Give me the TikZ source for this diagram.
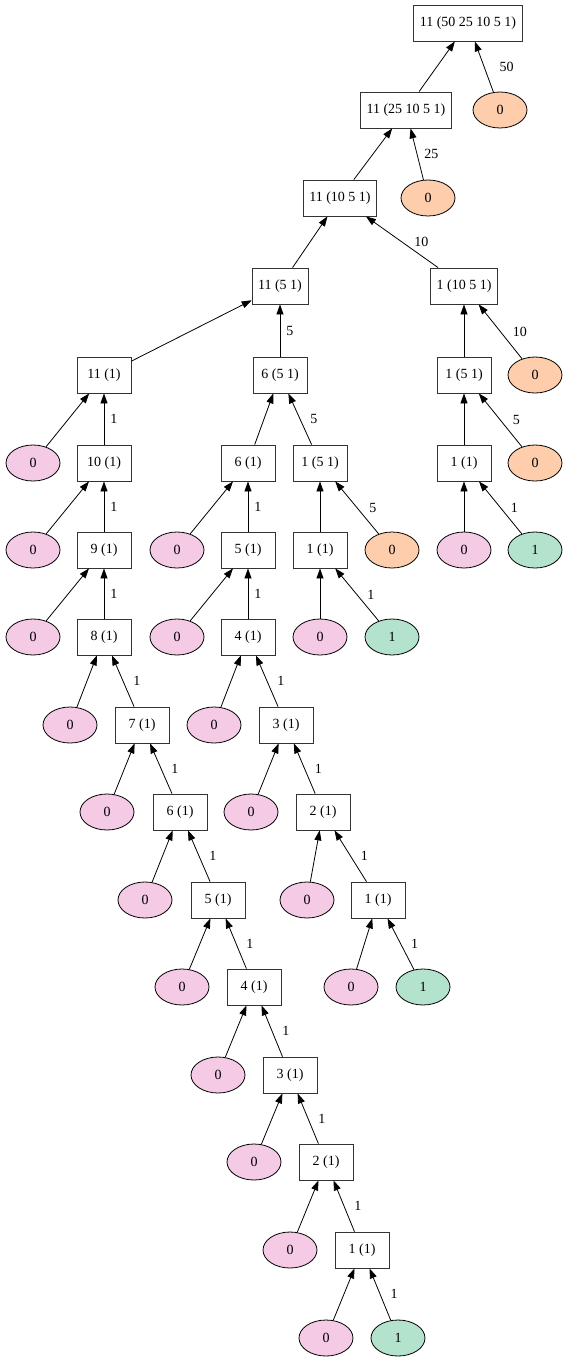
\documentclass[tikz,border=0pt]{standalone}
\usepackage{fontspec}
\setmainfont{Liberation Serif}
\usepackage{tikz}
\usetikzlibrary{arrows.meta,shapes.geometric,positioning}
\definecolor{leafpink}{HTML}{F4CAE4}
\definecolor{leaforange}{HTML}{FDCDAC}
\definecolor{leafgreen}{HTML}{B3E2CD}

\begin{document}
\begin{tikzpicture}[
  x=1bp, y=-1bp,
  state/.style={draw=black!80, line width=0.8bp, minimum width=54bp, minimum height=36bp,
                inner xsep=6bp, font=\fontsize{14bp}{16bp}\selectfont},
  leaf/.style={draw=black, line width=0.8bp, ellipse, fill=#1, minimum width=54bp,
               minimum height=36bp, inner sep=0pt, font=\fontsize{14bp}{16bp}\selectfont},
  arr/.style={-{Triangle[length=10bp,width=7bp]}, line width=0.8bp},
  lbl/.style={midway, right=#1, inner sep=1bp, font=\fontsize{14bp}{16bp}\selectfont},
  lbl/.default=9bp
]
  \useasboundingbox (0,0) rectangle (569,1367);

  % Top spine
  \node[state] (c50) at (468,23)  {11 (50 25 10 5 1)};
  \node[state] (c25) at (406,110) {11 (25 10 5 1)};
  \node[leaf=leaforange] (o50) at (500,110) {0};
  \node[state] (c10) at (340,198) {11 (10 5 1)};
  \node[leaf=leaforange] (o25) at (428,198) {0};
  \node[state] (c5)  at (280,286) {11 (5 1)};
  \node[state] (r10) at (464,286) {1 (10 5 1)};

  % Right branch
  \node[state] (r5)  at (464,375) {1 (5 1)};
  \node[leaf=leaforange] (ro10) at (535,375) {0};
  \node[state] (r1)  at (464,463) {1 (1)};
  \node[leaf=leaforange] (ro5) at (535,463) {0};
  \node[leaf=leafpink]  (rz) at (464,550) {0};
  \node[leaf=leafgreen] (rg) at (535,550) {1};

  % Left chain
  \node[state] (c1)  at (104,375) {11 (1)};
  \node[leaf=leafpink] (az11) at (33,463) {0};
  \node[state] (a10) at (104,463) {10 (1)};
  \node[leaf=leafpink] (az10) at (33,550) {0};
  \node[state] (a9)  at (104,550) {9 (1)};
  \node[leaf=leafpink] (az9) at (33,637) {0};
  \node[state] (a8)  at (104,637) {8 (1)};
  \node[leaf=leafpink] (az8) at (70,725) {0};
  \node[state] (a7)  at (142,725) {7 (1)};
  \node[leaf=leafpink] (az7) at (107,812) {0};
  \node[state] (a6)  at (180,812) {6 (1)};
  \node[leaf=leafpink] (az6) at (145,900) {0};
  \node[state] (a5)  at (218,900) {5 (1)};
  \node[leaf=leafpink] (az5) at (182,987) {0};
  \node[state] (a4)  at (254,987) {4 (1)};
  \node[leaf=leafpink] (az4) at (218,1075) {0};
  \node[state] (a3)  at (290,1075) {3 (1)};
  \node[leaf=leafpink] (az3) at (254,1162) {0};
  \node[state] (a2)  at (326,1162) {2 (1)};
  \node[leaf=leafpink] (az2) at (290,1250) {0};
  \node[state] (a1)  at (362,1250) {1 (1)};
  \node[leaf=leafpink]  (az1) at (326,1338) {0};
  \node[leaf=leafgreen] (ag)  at (398,1338) {1};

  % Middle branch
  \node[state] (m5)  at (280,375) {6 (5 1)};
  \node[state] (b6)  at (248,463) {6 (1)};
  \node[state] (m1)  at (320,463) {1 (5 1)};
  \node[leaf=leafpink] (bz6) at (177,550) {0};
  \node[state] (b5)  at (248,550) {5 (1)};
  \node[state] (m1b) at (320,550) {1 (1)};
  \node[leaf=leaforange] (mo5) at (392,550) {0};
  \node[leaf=leafpink] (bz5) at (177,637) {0};
  \node[state] (b4)  at (248,637) {4 (1)};
  \node[leaf=leafpink]  (mz) at (320,637) {0};
  \node[leaf=leafgreen] (mg) at (392,637) {1};
  \node[leaf=leafpink] (bz4) at (214,725) {0};
  \node[state] (b3)  at (286,725) {3 (1)};
  \node[leaf=leafpink] (bz3) at (251,812) {0};
  \node[state] (b2)  at (323,812) {2 (1)};
  \node[leaf=leafpink] (bz2) at (307,900) {0};
  \node[state] (b1)  at (378,900) {1 (1)};
  \node[leaf=leafpink]  (bz1) at (351,987) {0};
  \node[leaf=leafgreen] (bg)  at (423,987) {1};

  % Edges, child to parent
  \draw[arr] (c25) -- (c50);
  \draw[arr] (o50) -- node[lbl=14bp] {50} (c50);
  \draw[arr] (c10) -- (c25);
  \draw[arr] (o25) -- node[lbl=6bp] {25} (c25);
  \draw[arr] (c5) -- (c10);
  \draw[arr] (r10) -- node[lbl=11bp] {10} (c10);
  \draw[arr] (c1) -- (c5);
  \draw[arr] (m5) -- node[lbl=5bp] {5} (c5);

  \draw[arr] (r5) -- (r10);
  \draw[arr] (ro10) -- node[lbl=11bp] {10} (r10);
  \draw[arr] (r1) -- (r5);
  \draw[arr] (ro5) -- node[lbl=11bp] {5} (r5);
  \draw[arr] (rz) -- (r1);
  \draw[arr] (rg) -- node[lbl] {1} (r1);

  \draw[arr] (az11) -- (c1);
  \draw[arr] (a10) -- node[lbl=5bp] {1} (c1);
  \draw[arr] (az10) -- (a10);
  \draw[arr] (a9) -- node[lbl=5bp] {1} (a10);
  \draw[arr] (az9) -- (a9);
  \draw[arr] (a8) -- node[lbl=5bp] {1} (a9);
  \draw[arr] (az8) -- (a8);
  \draw[arr] (a7) -- node[lbl] {1} (a8);
  \draw[arr] (az7) -- (a7);
  \draw[arr] (a6) -- node[lbl] {1} (a7);
  \draw[arr] (az6) -- (a6);
  \draw[arr] (a5) -- node[lbl] {1} (a6);
  \draw[arr] (az5) -- (a5);
  \draw[arr] (a4) -- node[lbl] {1} (a5);
  \draw[arr] (az4) -- (a4);
  \draw[arr] (a3) -- node[lbl] {1} (a4);
  \draw[arr] (az3) -- (a3);
  \draw[arr] (a2) -- node[lbl] {1} (a3);
  \draw[arr] (az2) -- (a2);
  \draw[arr] (a1) -- node[lbl] {1} (a2);
  \draw[arr] (az1) -- (a1);
  \draw[arr] (ag) -- node[lbl] {1} (a1);

  \draw[arr] (b6) -- (m5);
  \draw[arr] (m1) -- node[lbl] {5} (m5);
  \draw[arr] (m1b) -- (m1);
  \draw[arr] (mo5) -- node[lbl=11bp] {5} (m1);
  \draw[arr] (mz) -- (m1b);
  \draw[arr] (mg) -- node[lbl] {1} (m1b);
  \draw[arr] (bz6) -- (b6);
  \draw[arr] (b5) -- node[lbl=5bp] {1} (b6);
  \draw[arr] (bz5) -- (b5);
  \draw[arr] (b4) -- node[lbl=5bp] {1} (b5);
  \draw[arr] (bz4) -- (b4);
  \draw[arr] (b3) -- node[lbl] {1} (b4);
  \draw[arr] (bz3) -- (b3);
  \draw[arr] (b2) -- node[lbl] {1} (b3);
  \draw[arr] (bz2) -- (b2);
  \draw[arr] (b1) -- node[lbl] {1} (b2);
  \draw[arr] (bz1) -- (b1);
  \draw[arr] (bg) -- node[lbl] {1} (b1);
\end{tikzpicture}
\end{document}
